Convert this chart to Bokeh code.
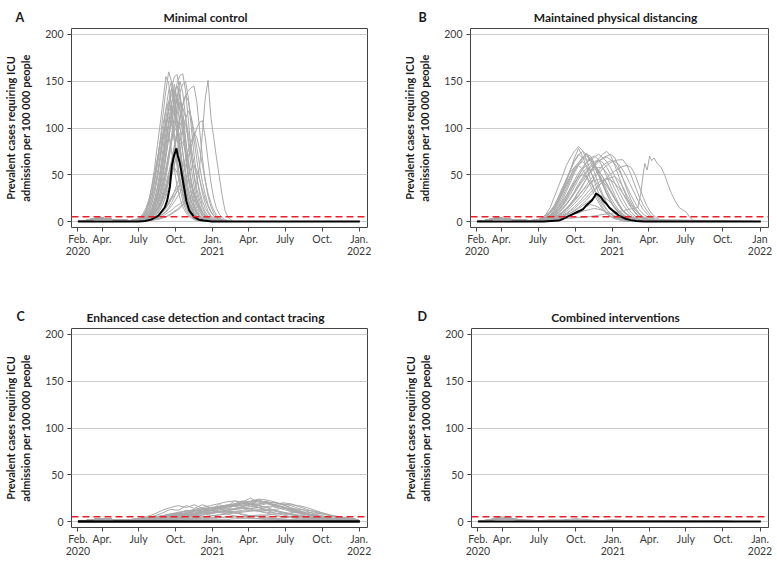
import pandas as pd
from bokeh.plotting import figure
from bokeh.layouts import column, row
from bokeh.models import Range1d, FixedTicker, Span, Label
from bokeh.embed import file_html
from bokeh.resources import INLINE

FONT = "Lato"
GRAY = "#a9a9a9"
RED = "#e8202a"
ORIGIN = pd.Timestamp("2020-01-01")


def to_days(dates):
    return [int((pd.Timestamp(d) - ORIGIN).days) for d in dates]


# ---------------- axes / reference values ----------------
tick_dates = ["2020-02-01", "2020-04-01", "2020-07-01", "2020-10-01", "2021-01-01",
              "2021-04-01", "2021-07-01", "2021-10-01", "2022-01-01"]
tick_labels = ["Feb.\n2020", "Apr.", "July", "Oct.", "Jan.\n2021", "Apr.", "July", "Oct.", "Jan.\n2022"]
tick_labels_b = ["Feb.\n2020", "Apr.", "July", "Oct.", "Jan.\n2021", "Apr.", "July", "Oct.", "Jan\n2022"]
y_ticks = [0, 50, 100, 150, 200]
x_limits = ["2020-01-16", "2022-01-22"]
y_limits = [-6.4, 206.4]
threshold = 5
y_title = "Prevalent cases requiring ICU\nadmission per 100 000 people"
titles = ["Minimal control", "Maintained physical distancing",
          "Enhanced case detection and contact tracing", "Combined interventions"]
letters = ["A", "B", "C", "D"]
end_dates = ["2022-01-03"]

early_dates = ["2020-02-01", "2020-02-20", "2020-03-10", "2020-03-25", "2020-04-10",
               "2020-04-30", "2020-05-20", "2020-06-10"]
early_v1 = [0, 0.5, 2, 3, 2.5, 2, 1.5, 1]
early_v2 = [0, 1, 3, 4, 3, 2, 1, 1]

# ---------------- panel A: minimal control (weekly, 2020-06-29 .. 2021-02-22) ----------------
a_grid = pd.date_range("2020-06-29", periods=35, freq="7D")
a_lines = [
    [2, 3, 6, 12, 22, 38, 58, 82, 105, 130, 155, 148, 120, 88, 58, 36, 22, 13, 8, 5, 3, 2, 1, 1, 0, 0, 0, 0, 0, 0, 0, 0, 0, 0, 0],
    [1, 2, 4, 8, 15, 26, 42, 63, 88, 115, 140, 160, 150, 122, 90, 60, 38, 23, 14, 8, 5, 3, 2, 1, 0, 0, 0, 0, 0, 0, 0, 0, 0, 0, 0],
    [1, 2, 3, 6, 11, 19, 31, 48, 70, 95, 120, 140, 150, 138, 110, 80, 52, 32, 19, 11, 6, 4, 2, 1, 1, 0, 0, 0, 0, 0, 0, 0, 0, 0, 0],
    [1, 1, 2, 4, 8, 14, 23, 37, 56, 78, 102, 122, 136, 140, 128, 102, 74, 48, 30, 18, 10, 6, 3, 2, 1, 0, 0, 0, 0, 0, 0, 0, 0, 0, 0],
    [1, 1, 2, 3, 6, 10, 17, 28, 43, 63, 86, 108, 127, 140, 145, 130, 104, 76, 50, 31, 18, 10, 6, 3, 2, 1, 0, 0, 0, 0, 0, 0, 0, 0, 0],
    [1, 1, 1, 2, 4, 7, 12, 20, 32, 48, 68, 90, 112, 132, 148, 156, 158, 140, 108, 76, 48, 30, 18, 10, 6, 3, 2, 1, 0, 0, 0, 0, 0, 0, 0],
    [1, 1, 2, 3, 5, 9, 15, 24, 37, 54, 74, 95, 113, 127, 134, 135, 118, 90, 62, 40, 24, 14, 8, 5, 3, 2, 1, 0, 0, 0, 0, 0, 0, 0, 0],
    [0, 1, 1, 1, 2, 3, 5, 8, 13, 20, 30, 43, 58, 75, 93, 110, 124, 134, 140, 143, 145, 128, 98, 68, 44, 27, 16, 9, 5, 3, 2, 1, 0, 0, 0],
    [2, 3, 5, 9, 15, 24, 36, 52, 70, 88, 105, 118, 125, 116, 96, 72, 50, 33, 21, 13, 8, 5, 3, 2, 1, 0, 0, 0, 0, 0, 0, 0, 0, 0, 0],
    [0, 1, 1, 2, 3, 5, 8, 13, 21, 32, 47, 65, 85, 105, 123, 138, 147, 150, 132, 102, 72, 47, 29, 17, 10, 6, 3, 2, 1, 0, 0, 0, 0, 0, 0],
    [1, 2, 3, 5, 9, 15, 24, 36, 52, 70, 88, 104, 115, 118, 105, 82, 58, 38, 24, 14, 8, 5, 3, 2, 1, 0, 0, 0, 0, 0, 0, 0, 0, 0, 0],
    [1, 1, 2, 3, 5, 8, 13, 20, 30, 43, 58, 73, 87, 97, 100, 92, 74, 54, 36, 23, 14, 8, 5, 3, 2, 1, 0, 0, 0, 0, 0, 0, 0, 0, 0],
    [0, 1, 1, 2, 3, 5, 8, 12, 18, 26, 36, 47, 58, 68, 77, 83, 85, 76, 60, 43, 28, 18, 11, 6, 4, 2, 1, 0, 0, 0, 0, 0, 0, 0, 0],
    [0, 1, 1, 1, 2, 3, 4, 6, 9, 12, 16, 21, 26, 31, 36, 40, 43, 45, 44, 39, 31, 23, 16, 10, 6, 4, 2, 1, 0, 0, 0, 0, 0, 0, 0],
    [0, 0, 1, 1, 1, 2, 2, 3, 4, 6, 8, 10, 12, 15, 17, 19, 21, 23, 24, 25, 23, 19, 14, 10, 6, 4, 2, 1, 0, 0, 0, 0, 0, 0, 0],
    [1, 1, 1, 1, 1, 2, 2, 3, 3, 4, 5, 6, 8, 10, 12, 14, 17, 20, 24, 28, 33, 42, 58, 95, 132, 151, 112, 90, 68, 48, 28, 12, 5, 2, 0],
    [0, 1, 1, 1, 2, 2, 3, 4, 6, 8, 11, 15, 20, 26, 33, 41, 50, 60, 70, 80, 90, 100, 106, 108, 90, 65, 42, 25, 14, 8, 4, 2, 1, 0, 0],
    [1, 1, 2, 3, 5, 7, 10, 14, 20, 27, 36, 46, 55, 58, 52, 42, 31, 22, 15, 10, 6, 4, 2, 1, 0, 0, 0, 0, 0, 0, 0, 0, 0, 0, 0],
    [0, 1, 1, 2, 2, 3, 5, 6, 9, 12, 15, 19, 24, 28, 32, 35, 33, 28, 21, 15, 10, 6, 4, 2, 1, 0, 0, 0, 0, 0, 0, 0, 0, 0, 0],
    [2, 3, 6, 11, 19, 31, 47, 66, 86, 104, 120, 128, 118, 95, 68, 45, 28, 17, 10, 6, 3, 2, 1, 0, 0, 0, 0, 0, 0, 0, 0, 0, 0, 0, 0],
    [1, 1, 2, 4, 7, 12, 20, 32, 49, 70, 95, 120, 142, 155, 157, 138, 105, 74, 48, 30, 18, 10, 6, 3, 2, 1, 0, 0, 0, 0, 0, 0, 0, 0, 0],
    [1, 2, 2, 4, 6, 11, 17, 29, 41, 62, 80, 104, 122, 147, 131, 118, 92, 70, 44, 31, 17, 11, 6, 4, 2, 1, 1, 0, 0, 0, 0, 0, 0, 0, 0],
    [1, 1, 2, 3, 5, 8, 12, 19, 27, 40, 52, 68, 85, 99, 115, 128, 122, 111, 94, 80, 61, 47, 33, 22, 14, 9, 5, 3, 2, 1, 0, 0, 0, 0, 0],
    [0, 1, 1, 2, 3, 4, 6, 9, 13, 19, 27, 36, 48, 60, 73, 88, 99, 110, 118, 112, 97, 79, 60, 42, 29, 18, 11, 6, 4, 2, 1, 0, 0, 0, 0],
    [1, 2, 4, 7, 12, 20, 31, 47, 66, 88, 110, 128, 142, 130, 104, 78, 55, 36, 23, 14, 8, 5, 3, 2, 1, 0, 0, 0, 0, 0, 0, 0, 0, 0, 0],
    [1, 1, 3, 4, 8, 11, 19, 26, 40, 52, 71, 88, 106, 119, 132, 120, 109, 86, 66, 45, 30, 19, 11, 7, 4, 2, 1, 0, 0, 0, 0, 0, 0, 0, 0],
    [0, 1, 1, 2, 4, 6, 9, 14, 20, 29, 40, 52, 65, 79, 92, 103, 110, 104, 89, 70, 51, 35, 23, 14, 8, 5, 3, 2, 1, 0, 0, 0, 0, 0, 0],
    [2, 4, 7, 12, 20, 31, 45, 61, 77, 92, 104, 112, 105, 86, 64, 45, 30, 19, 12, 7, 4, 2, 1, 1, 0, 0, 0, 0, 0, 0, 0, 0, 0, 0, 0],
    [0, 0, 1, 1, 2, 3, 4, 5, 7, 10, 14, 19, 25, 32, 40, 49, 58, 67, 76, 85, 95, 90, 77, 60, 44, 30, 20, 12, 7, 4, 2, 1, 0, 0, 0],
    [1, 1, 2, 3, 4, 6, 9, 13, 18, 25, 33, 42, 52, 63, 70, 65, 54, 42, 31, 21, 14, 9, 5, 3, 2, 1, 0, 0, 0, 0, 0, 0, 0, 0, 0],
    [0, 1, 1, 2, 3, 4, 7, 10, 16, 24, 35, 49, 64, 81, 97, 113, 126, 135, 129, 111, 88, 66, 46, 30, 19, 11, 6, 4, 2, 1, 0, 0, 0, 0, 0],
    [3, 5, 9, 15, 24, 37, 52, 68, 84, 95, 100, 92, 76, 56, 38, 25, 16, 10, 6, 4, 2, 1, 1, 0, 0, 0, 0, 0, 0, 0, 0, 0, 0, 0, 0],
    [0, 1, 1, 2, 4, 6, 10, 16, 25, 37, 53, 71, 92, 113, 133, 150, 138, 112, 83, 58, 38, 24, 14, 8, 5, 3, 2, 1, 0, 0, 0, 0, 0, 0, 0],
    [0, 1, 1, 1, 2, 2, 3, 4, 6, 8, 10, 13, 17, 21, 26, 31, 37, 44, 51, 57, 60, 55, 45, 34, 24, 16, 10, 6, 3, 2, 1, 0, 0, 0, 0],
    [0, 0, 0, 1, 1, 1, 2, 2, 3, 4, 5, 7, 9, 11, 13, 16, 18, 20, 19, 16, 12, 9, 6, 4, 2, 1, 1, 0, 0, 0, 0, 0, 0, 0, 0],
]
a_black_dates = ["2020-02-01", "2020-07-01", "2020-07-17", "2020-08-01", "2020-08-19", "2020-09-04",
                 "2020-09-10", "2020-09-17", "2020-09-22", "2020-09-27", "2020-10-03", "2020-10-07",
                 "2020-10-11", "2020-10-15", "2020-10-22", "2020-10-28", "2020-11-04", "2020-11-16",
                 "2020-11-28", "2020-12-10", "2020-12-30", "2022-01-03"]
a_black = [0, 0, 0.5, 2, 6, 15, 22, 37, 60, 70, 78, 70, 64, 55, 37, 22, 12, 5, 2, 1, 0, 0]

# ---------------- panel B: maintained distancing (10-day, 2020-07-01 .. 2021-04-27) ----------------
b_grid = pd.date_range("2020-07-01", periods=31, freq="10D")
b_lines = [
    [2, 4, 8, 15, 26, 37, 48, 60, 68, 75, 80, 76, 66, 54, 42, 30, 20, 13, 8, 5, 3, 2, 1, 1, 0, 0, 0, 0, 0, 0, 0],
    [1, 3, 5, 9, 15, 23, 33, 44, 55, 64, 71, 75, 72, 64, 52, 40, 29, 20, 13, 8, 5, 3, 2, 1, 0, 0, 0, 0, 0, 0, 0],
    [1, 2, 4, 7, 12, 18, 26, 35, 45, 54, 62, 68, 72, 70, 62, 52, 41, 31, 22, 15, 10, 6, 4, 2, 1, 1, 0, 0, 0, 0, 0],
    [1, 2, 3, 5, 8, 12, 17, 24, 32, 40, 48, 56, 63, 68, 70, 66, 58, 48, 38, 28, 19, 12, 8, 5, 3, 2, 1, 0, 0, 0, 0],
    [1, 1, 2, 3, 5, 7, 10, 14, 19, 25, 32, 39, 46, 53, 59, 64, 68, 70, 72, 68, 58, 46, 34, 23, 15, 9, 5, 3, 2, 1, 0],
    [1, 1, 2, 3, 4, 6, 8, 11, 15, 19, 24, 29, 35, 41, 47, 52, 56, 60, 63, 65, 66, 66, 60, 50, 38, 27, 18, 11, 6, 3, 1],
    [2, 3, 6, 10, 17, 26, 36, 45, 53, 58, 60, 56, 48, 38, 28, 20, 13, 8, 5, 3, 2, 1, 0, 0, 0, 0, 0, 0, 0, 0, 0],
    [1, 2, 3, 5, 8, 12, 18, 25, 33, 41, 49, 56, 60, 62, 58, 50, 40, 30, 21, 14, 9, 5, 3, 2, 1, 0, 0, 0, 0, 0, 0],
    [1, 1, 2, 4, 6, 9, 13, 18, 24, 30, 37, 43, 49, 53, 56, 58, 57, 52, 44, 35, 26, 18, 12, 7, 4, 2, 1, 0, 0, 0, 0],
    [1, 2, 4, 6, 10, 15, 21, 28, 35, 42, 47, 50, 48, 42, 34, 26, 18, 12, 8, 5, 3, 2, 1, 0, 0, 0, 0, 0, 0, 0, 0],
    [1, 1, 2, 3, 5, 7, 10, 14, 18, 23, 28, 33, 37, 41, 44, 45, 43, 38, 31, 24, 17, 11, 7, 4, 2, 1, 0, 0, 0, 0, 0],
    [1, 1, 1, 2, 3, 4, 6, 8, 11, 14, 18, 22, 26, 31, 35, 39, 42, 45, 47, 48, 44, 37, 28, 20, 13, 8, 4, 2, 1, 0, 0],
    [0, 1, 1, 2, 3, 4, 5, 7, 9, 11, 14, 17, 20, 23, 26, 28, 27, 24, 20, 15, 11, 7, 4, 2, 1, 0, 0, 0, 0, 0, 0],
    [0, 1, 1, 2, 2, 3, 4, 5, 7, 9, 11, 14, 16, 18, 17, 15, 12, 9, 6, 4, 2, 1, 0, 0, 0, 0, 0, 0, 0, 0, 0],
    [1, 1, 1, 2, 3, 4, 5, 7, 9, 12, 15, 19, 23, 28, 33, 38, 43, 47, 51, 54, 57, 59, 60, 58, 50, 38, 26, 16, 9, 5, 2],
    [1, 2, 4, 7, 12, 20, 30, 42, 55, 68, 78, 70, 58, 45, 33, 23, 15, 9, 5, 3, 2, 1, 0, 0, 0, 0, 0, 0, 0, 0, 0],
    [1, 1, 2, 3, 4, 6, 9, 13, 18, 24, 31, 38, 46, 54, 61, 67, 72, 75, 70, 60, 48, 36, 25, 16, 10, 6, 3, 2, 1, 0, 0],
    [1, 3, 5, 9, 14, 22, 31, 40, 49, 58, 63, 69, 65, 68, 60, 55, 47, 40, 32, 24, 17, 11, 7, 4, 2, 1, 0, 0, 0, 0, 0],
    [1, 2, 3, 6, 9, 14, 20, 27, 36, 44, 52, 58, 63, 66, 69, 72, 68, 64, 57, 48, 39, 30, 22, 15, 9, 5, 3, 2, 1, 0, 0],
    [2, 4, 7, 11, 17, 25, 34, 45, 55, 65, 72, 68, 73, 66, 58, 49, 39, 29, 21, 14, 9, 5, 3, 2, 1, 0, 0, 0, 0, 0, 0],
    [1, 1, 2, 4, 6, 9, 13, 18, 24, 31, 38, 45, 52, 58, 62, 65, 67, 69, 66, 62, 55, 46, 37, 28, 20, 13, 8, 5, 3, 1, 0],
    [1, 2, 3, 5, 7, 11, 16, 22, 29, 37, 45, 52, 57, 55, 59, 54, 48, 41, 33, 25, 18, 12, 8, 5, 3, 2, 1, 0, 0, 0, 0],
    [1, 1, 2, 3, 5, 7, 10, 13, 17, 22, 27, 33, 39, 45, 50, 55, 60, 63, 65, 64, 61, 55, 47, 38, 29, 20, 13, 8, 4, 2, 1],
    [2, 3, 5, 9, 14, 21, 29, 38, 47, 56, 61, 64, 60, 53, 45, 36, 27, 19, 13, 8, 5, 3, 2, 1, 0, 0, 0, 0, 0, 0, 0],
    [1, 2, 3, 5, 7, 10, 14, 19, 25, 32, 40, 47, 54, 60, 64, 66, 63, 58, 50, 41, 32, 24, 16, 10, 6, 3, 2, 1, 0, 0, 0],
    [1, 1, 2, 2, 3, 5, 7, 9, 12, 16, 20, 25, 30, 35, 39, 42, 44, 46, 44, 41, 36, 30, 24, 18, 12, 8, 5, 3, 1, 1, 0],
    [0, 1, 1, 1, 2, 3, 4, 5, 6, 8, 9, 11, 12, 13, 14, 13, 12, 10, 8, 6, 4, 3, 2, 1, 0, 0, 0, 0, 0, 0, 0],
    [1, 2, 4, 6, 10, 16, 23, 32, 42, 52, 60, 66, 70, 67, 61, 52, 43, 34, 25, 18, 12, 8, 5, 3, 2, 1, 0, 0, 0, 0, 0],
]
b_late_dates = ["2020-07-01", "2020-08-01", "2020-09-01", "2020-10-01", "2020-11-01", "2020-12-01",
                "2021-01-01", "2021-02-01", "2021-02-20", "2021-03-05", "2021-03-12", "2021-03-18",
                "2021-03-22", "2021-03-28", "2021-04-03", "2021-04-08", "2021-04-14", "2021-04-22",
                "2021-05-01", "2021-05-10", "2021-05-18", "2021-05-27", "2021-06-05", "2021-06-15",
                "2021-06-25", "2021-07-03", "2021-07-10", "2021-07-18", "2021-07-25"]
b_late = [1, 2, 3, 4, 5, 7, 9, 12, 14, 15, 30, 50, 62, 55, 70, 65, 68, 62, 58, 50, 40, 30, 22, 15,
          12, 10, 5, 2, 0]
b_black_dates = ["2020-02-01", "2020-07-15", "2020-08-21", "2020-09-02", "2020-09-25", "2020-10-10",
                 "2020-10-20", "2020-10-28", "2020-11-05", "2020-11-12", "2020-11-18", "2020-11-22",
                 "2020-11-28", "2020-12-04", "2020-12-10", "2020-12-17", "2020-12-24", "2021-01-01",
                 "2021-01-10", "2021-01-18", "2021-02-03", "2021-02-15", "2021-03-01", "2021-03-20",
                 "2022-01-03"]
b_black = [0, 0, 1, 3, 8, 11, 13, 17, 20, 23, 27, 30, 28, 26, 22, 19, 15, 12, 9, 6, 3, 1.5, 0.5, 0, 0]

# ---------------- panel C: case detection (20-day, 2020-06-10 .. 2021-12-22) ----------------
c_early_dates = ["2020-02-01", "2020-02-20", "2020-03-10", "2020-03-25", "2020-04-10", "2020-04-30", "2020-05-20"]
c_early = [0, 1, 2, 3, 3, 2, 2]
c_grid = pd.date_range("2020-06-10", periods=29, freq="20D")
c_lines = [
    [2, 3, 5, 8, 12, 15, 17, 15, 18, 14, 12, 10, 8, 6, 5, 4, 3, 2, 2, 1, 1, 1, 0, 0, 0, 0, 0, 0, 0],
    [2, 3, 4, 6, 9, 13, 12, 17, 14, 18, 15, 14, 11, 10, 7, 6, 5, 4, 3, 2, 2, 1, 1, 1, 0, 0, 0, 0, 0],
    [1, 2, 3, 4, 5, 7, 9, 11, 13, 15, 17, 19, 21, 22, 20, 18, 15, 12, 9, 7, 5, 4, 3, 2, 2, 1, 1, 1, 0],
    [1, 2, 2, 4, 3, 6, 5, 9, 8, 13, 12, 18, 16, 22, 21, 25, 20, 22, 15, 16, 10, 9, 5, 5, 3, 2, 2, 1, 1],
    [1, 1, 2, 2, 3, 4, 5, 6, 7, 9, 11, 13, 15, 17, 19, 21, 22, 21, 20, 18, 15, 12, 9, 7, 5, 3, 2, 2, 1],
    [1, 1, 1, 2, 2, 3, 4, 5, 6, 7, 8, 10, 12, 14, 16, 18, 19, 20, 20, 19, 17, 14, 11, 8, 6, 4, 3, 2, 2],
    [1, 1, 1, 1, 2, 2, 3, 3, 4, 5, 6, 7, 9, 10, 12, 14, 15, 16, 17, 18, 18, 17, 15, 12, 9, 6, 4, 3, 2],
    [1, 2, 3, 4, 6, 8, 10, 11, 12, 14, 15, 16, 17, 16, 15, 13, 11, 9, 7, 5, 4, 3, 2, 1, 1, 1, 0, 0, 0],
    [1, 1, 2, 3, 4, 5, 6, 7, 8, 9, 10, 11, 12, 13, 14, 14, 13, 12, 11, 9, 8, 6, 5, 4, 3, 2, 1, 1, 1],
    [2, 3, 4, 5, 6, 7, 8, 9, 10, 11, 12, 11, 10, 9, 8, 6, 5, 4, 3, 2, 2, 1, 1, 0, 0, 0, 0, 0, 0],
    [1, 1, 1, 1, 1, 2, 2, 2, 3, 3, 3, 4, 4, 5, 5, 6, 7, 7, 8, 9, 9, 10, 10, 9, 8, 6, 5, 3, 2],
    [1, 1, 1, 2, 2, 2, 3, 3, 3, 4, 4, 4, 5, 5, 5, 6, 6, 6, 5, 5, 5, 4, 4, 3, 3, 2, 2, 2, 1],
    [1, 1, 2, 2, 3, 4, 5, 6, 8, 10, 12, 14, 16, 18, 20, 22, 24, 23, 21, 18, 14, 11, 8, 6, 4, 3, 2, 1, 1],
    [2, 2, 3, 4, 5, 6, 7, 8, 9, 11, 13, 15, 17, 19, 20, 19, 17, 15, 12, 10, 8, 6, 4, 3, 2, 1, 1, 1, 0],
    [1, 1, 1, 1, 1, 1, 1, 2, 2, 2, 2, 2, 2, 3, 3, 3, 3, 3, 3, 3, 2, 2, 2, 2, 2, 1, 1, 1, 1],
    [1, 2, 3, 5, 4, 7, 9, 8, 12, 11, 15, 14, 18, 17, 21, 19, 23, 20, 18, 15, 13, 10, 8, 6, 4, 3, 2, 1, 1],
    [2, 3, 4, 4, 6, 8, 7, 10, 12, 11, 14, 16, 15, 18, 17, 20, 18, 21, 17, 15, 12, 10, 8, 6, 4, 3, 2, 2, 1],
    [1, 2, 2, 3, 5, 4, 6, 8, 7, 10, 12, 14, 13, 17, 19, 18, 22, 20, 17, 16, 13, 11, 8, 7, 5, 3, 3, 2, 1],
    [1, 1, 2, 3, 4, 5, 5, 7, 8, 10, 9, 12, 14, 13, 16, 18, 17, 15, 16, 13, 11, 10, 7, 6, 4, 4, 3, 2, 2],
    [2, 3, 3, 5, 6, 8, 9, 12, 11, 13, 15, 14, 17, 16, 18, 16, 15, 13, 12, 10, 8, 7, 5, 4, 3, 2, 2, 1, 1],
    [1, 1, 2, 2, 3, 3, 4, 5, 6, 7, 9, 10, 11, 13, 14, 16, 17, 19, 18, 20, 19, 16, 13, 10, 8, 6, 4, 3, 2],
    [1, 2, 3, 3, 4, 6, 8, 9, 11, 13, 12, 15, 17, 19, 22, 21, 23, 19, 18, 15, 12, 9, 7, 5, 4, 3, 2, 1, 1],
    [1, 1, 1, 2, 2, 3, 3, 4, 5, 5, 6, 7, 8, 9, 10, 11, 12, 12, 13, 14, 14, 13, 12, 11, 9, 7, 5, 4, 3],
    [2, 2, 3, 4, 5, 5, 6, 7, 8, 8, 9, 10, 10, 11, 11, 12, 11, 10, 9, 8, 7, 6, 5, 4, 3, 3, 2, 2, 1],
]
c_end = [1]

# ---------------- panel D: combined interventions ----------------
d_grid = ["2020-02-01", "2020-02-15", "2020-03-01", "2020-03-15", "2020-04-01", "2020-04-15",
          "2020-05-01", "2020-05-15", "2020-06-01", "2020-07-01", "2020-08-01", "2020-09-01",
          "2020-10-01", "2020-11-01", "2020-12-01", "2021-01-01", "2021-02-01", "2021-03-01",
          "2021-04-01", "2021-05-01", "2021-06-01", "2021-07-01", "2021-08-01", "2021-09-01",
          "2021-10-01", "2021-11-01", "2021-12-01", "2022-01-01"]
d_lines = [
    [0, 1, 2, 3, 4, 3, 2, 1, 1, 1, 1, 1, 1, 0, 0, 0, 0, 0, 0, 0, 0, 0, 0, 0, 0, 0, 0, 0],
    [0, 1, 2, 4, 5, 4, 3, 2, 1, 1, 2, 1, 1, 1, 1, 0, 0, 0, 0, 0, 0, 0, 0, 0, 0, 0, 0, 0],
    [0, 1, 2, 3, 3, 3, 2, 2, 1, 1, 1, 2, 3, 2, 1, 1, 1, 1, 0, 0, 0, 0, 0, 0, 0, 0, 0, 0],
    [0, 0, 1, 2, 3, 4, 3, 2, 2, 1, 1, 1, 2, 1, 1, 2, 1, 1, 1, 1, 1, 0, 0, 0, 0, 0, 0, 0],
    [0, 1, 1, 2, 3, 2, 2, 1, 1, 1, 1, 1, 1, 1, 1, 1, 1, 1, 1, 1, 1, 1, 1, 1, 1, 0, 0, 0],
    [0, 0, 1, 2, 2, 3, 2, 2, 1, 1, 0, 0, 0, 0, 0, 0, 0, 0, 0, 0, 0, 0, 0, 0, 0, 0, 0, 0],
]
flat_dates = ["2020-02-01", "2022-01-03"]
flat_black = [0, 0]


# ---------------- build series ----------------
def series(dates, vals):
    assert len(dates) == len(vals), (len(dates), len(vals))
    return to_days(dates), list(vals)


a_xs, a_ys = [], []
for i, v in enumerate(a_lines):
    ev = early_v1 if i % 2 == 0 else early_v2
    x, y = series(early_dates + [str(d.date()) for d in a_grid] + end_dates, ev + v + [0])
    a_xs.append(x); a_ys.append(y)

b_xs, b_ys = [], []
for i, v in enumerate(b_lines):
    ev = early_v1 if i % 2 == 0 else early_v2
    x, y = series(early_dates + [str(d.date()) for d in b_grid] + end_dates, ev + v + [0])
    b_xs.append(x); b_ys.append(y)
x, y = series(early_dates + b_late_dates + end_dates, early_v2 + b_late + [0])
b_xs.append(x); b_ys.append(y)

c_xs, c_ys = [], []
for v in c_lines:
    x, y = series(c_early_dates + [str(d.date()) for d in c_grid] + end_dates, c_early + v + c_end)
    c_xs.append(x); c_ys.append(y)

d_xs, d_ys = [], []
for v in d_lines:
    x, y = series(d_grid, v)
    d_xs.append(x); d_ys.append(y)

tick_days = to_days(tick_dates)
x0, x1 = to_days(x_limits)


def make_panel(idx, xs, ys, bdates, bvals, labels, width, height, left, right, top, bottom,
               letter_xy, letter_side, title_xy, bwidth=2.0):
    p = figure(width=width, height=height, title=None,
               x_range=Range1d(x0, x1), y_range=Range1d(*y_limits),
               output_backend="svg", toolbar_location=None,
               min_border_left=left, min_border_right=right,
               min_border_top=top, min_border_bottom=bottom)
    p.background_fill_color = "white"
    p.border_fill_color = "white"
    p.outline_line_color = "#444444"
    p.outline_line_width = 1

    p.multi_line(xs=xs, ys=ys, line_color=GRAY, line_width=1)
    bx, by = series(bdates, bvals)
    p.line(bx, by, line_color="black", line_width=bwidth)
    p.add_layout(Span(location=threshold, dimension="width", line_color=RED,
                      line_dash="7 4", line_width=1.5))

    p.xgrid.visible = False
    p.ygrid.ticker = FixedTicker(ticks=y_ticks)
    p.ygrid.grid_line_color = "#cccccc"
    p.ygrid.grid_line_width = 1

    p.xaxis.ticker = FixedTicker(ticks=tick_days)
    p.xaxis.major_label_overrides = dict(zip(tick_days, labels))
    p.yaxis.ticker = FixedTicker(ticks=y_ticks)
    p.yaxis.axis_label = y_title
    p.yaxis.axis_label_text_font = FONT
    p.yaxis.axis_label_text_font_style = "bold"
    p.yaxis.axis_label_text_font_size = "11px"
    p.yaxis.axis_label_text_color = "#1a1a1a"
    p.yaxis.axis_label_standoff = 10
    for ax in (p.xaxis, p.yaxis):
        ax.axis_line_color = None
        ax.minor_tick_line_color = None
        ax.major_tick_in = 0
        ax.major_tick_out = 4
        ax.major_tick_line_color = "#444444"
        ax.major_label_text_font = FONT
        ax.major_label_text_font_size = "10.5px"
        ax.major_label_text_color = "#3a3a3a"
    p.yaxis.major_label_standoff = 4
    p.xaxis.major_label_standoff = 1
    p.xaxis.major_label_text_line_height = 1.0

    # panel title and panel letter, placed in canvas pixels inside side panels (unclipped)
    p.add_layout(Label(x=title_xy[0], y=title_xy[1], x_units="canvas", y_units="canvas",
                       text=titles[idx], text_font=FONT, text_font_style="bold",
                       text_font_size="12px", text_color="#1a1a1a",
                       text_align="center", text_baseline="alphabetic"), "above")
    p.add_layout(Label(x=letter_xy[0], y=letter_xy[1], x_units="canvas", y_units="canvas",
                       text=letters[idx], text_font=FONT, text_font_style="bold",
                       text_font_size="12.5px", text_color="#1a1a1a",
                       text_align="left", text_baseline="alphabetic"), letter_side)
    return p


pA = make_panel(0, a_xs, a_ys, a_black_dates, a_black, tick_labels,
                390, 290, 68, 23, 28, 63, (15, 17), "right", (205, 17.3))
pB = make_panel(1, b_xs, b_ys, b_black_dates, b_black, tick_labels_b,
                385, 290, 80, 7, 28, 63, (28, 17), "left", (225, 17.3))
pC = make_panel(2, c_xs, c_ys, flat_dates, flat_black, tick_labels,
                390, 269, 68, 23, 38, 32, (16, 26), "right", (205, 27.3), bwidth=2.5)
pD = make_panel(3, d_xs, d_ys, flat_dates, flat_black, tick_labels,
                385, 269, 80, 7, 38, 32, (27, 26), "left", (225, 26.7))

layout = column(row(pA, pB), row(pC, pD))
open("out.html", "w").write(file_html(layout, INLINE))
